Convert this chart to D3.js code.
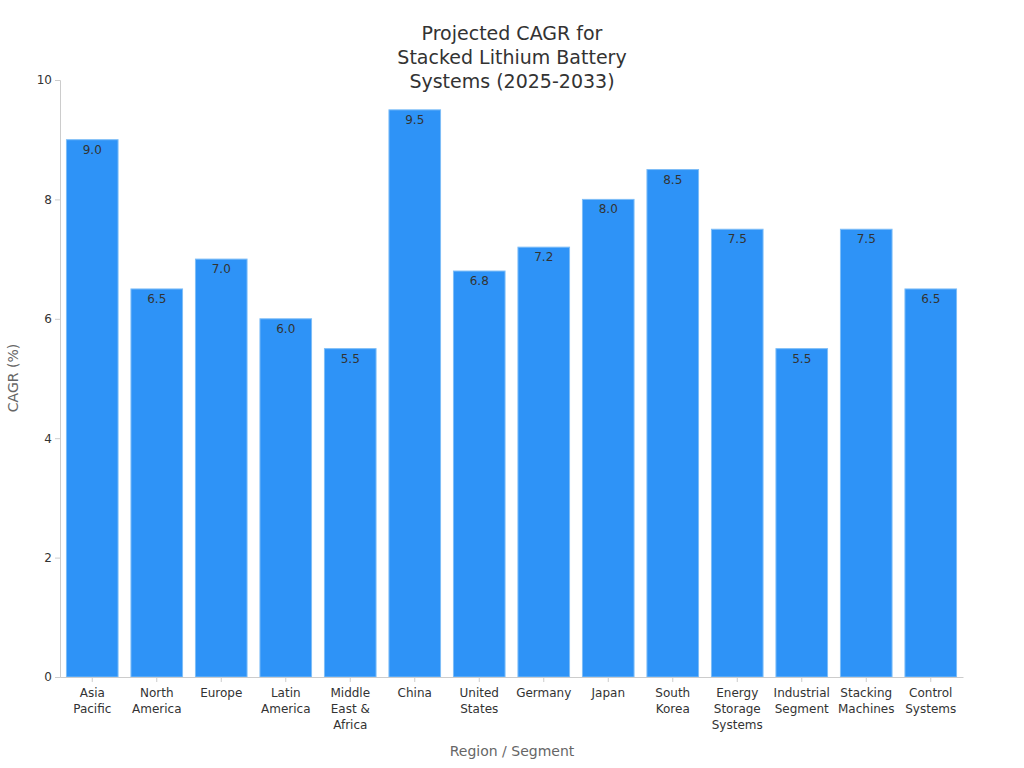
<!DOCTYPE html>
<html><head><meta charset="utf-8">
<script src="https://cdn.jsdelivr.net/npm/d3@7/dist/d3.min.js"></script>
<style>body{margin:0;background:#fff;font-family:"DejaVu Sans",sans-serif}</style>
</head><body><svg id="c" width="1024" height="768"></svg>
<script>
const categories = ["Asia\nPacific","North\nAmerica","Europe","Latin\nAmerica","Middle\nEast &\nAfrica","China","United\nStates","Germany","Japan","South\nKorea","Energy\nStorage\nSystems","Industrial\nSegment","Stacking\nMachines","Control\nSystems"];
const values = [9.0,6.5,7.0,6.0,5.5,9.5,6.8,7.2,8.0,8.5,7.5,5.5,7.5,6.5];
const yTicks = [0,2,4,6,8,10];
const titleLines = ["Projected CAGR for","Stacked Lithium Battery","Systems (2025-2033)"];

const svg = d3.select("#c");
const m = {l:60, r:963, t:80, b:677};
const x = d3.scaleBand().domain(categories).range([m.l, m.r]).paddingInner(0.2).paddingOuter(0.1);
const y = d3.scaleLinear().domain([0,10]).range([m.b, m.t]);

svg.append("g").selectAll("text").data(titleLines).join("text")
  .attr("x",512).attr("y",(d,i)=>40+i*24).attr("text-anchor","middle")
  .attr("font-size",19).attr("fill","#333").text(d=>d);

svg.append("g").selectAll("rect").data(values).join("rect")
  .attr("x",(d,i)=>x(categories[i])).attr("width",x.bandwidth())
  .attr("y",d=>y(d)).attr("height",d=>y(0)-y(d))
  .attr("fill","#2E93F7").attr("stroke","#7dbdf7").attr("stroke-width",1);

svg.append("g").selectAll("text").data(values).join("text")
  .attr("x",(d,i)=>x(categories[i])+x.bandwidth()/2).attr("y",d=>y(d)+14)
  .attr("text-anchor","middle").attr("font-size",12).attr("fill","#333")
  .text(d=>d.toFixed(1));

const ya = svg.append("g").attr("transform",`translate(${m.l},0)`)
  .call(d3.axisLeft(y).tickValues(yTicks).tickSize(5).tickFormat(d3.format("d")));
ya.selectAll("path,line").attr("stroke","#ccc");
ya.selectAll("text").attr("font-size",12).attr("fill","#333").attr("font-family","DejaVu Sans");

const xa = svg.append("g").attr("transform",`translate(0,${m.b})`)
  .call(d3.axisBottom(x).tickSize(5).tickSizeOuter(0).tickFormat(""));
xa.selectAll("path,line").attr("stroke","#ccc");
xa.selectAll(".tick").each(function(d){
  const t = d3.select(this).append("text").attr("fill","#333").attr("font-size",12)
    .attr("text-anchor","middle").attr("font-family","DejaVu Sans");
  d.split("\n").forEach((s,i)=>t.append("tspan").attr("x",0).attr("y",20+i*16).text(s));
});

svg.append("text").attr("x",512).attr("y",756).attr("text-anchor","middle")
  .attr("font-size",14).attr("fill","#666").text("Region / Segment");
svg.append("text").attr("transform","translate(18,378) rotate(-90)").attr("text-anchor","middle")
  .attr("font-size",14).attr("fill","#666").text("CAGR (%)");
</script></body></html>
